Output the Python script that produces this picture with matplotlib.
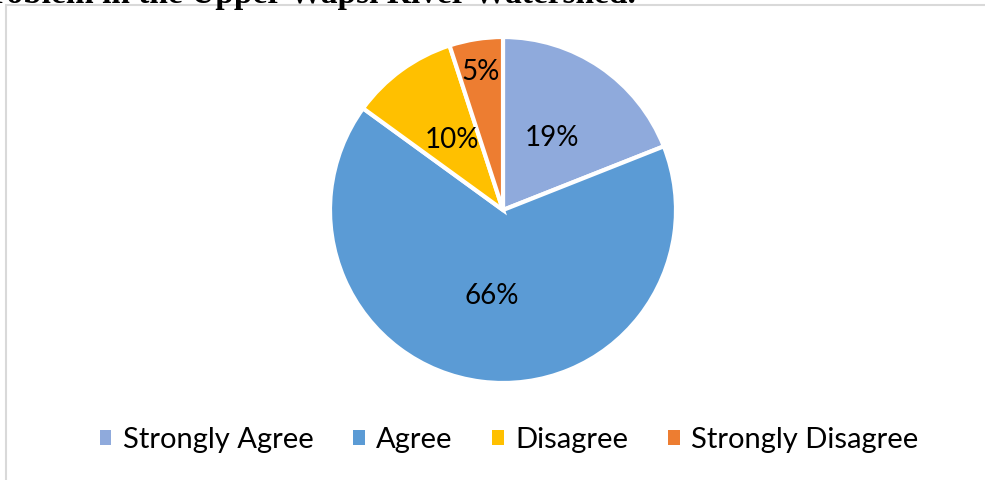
import matplotlib.pyplot as plt
from matplotlib.patches import Patch, Rectangle
import numpy as np

categories = ['Strongly Agree', 'Agree', 'Disagree', 'Strongly Disagree']
shares = [19, 66, 10, 5]
colors = ['#8FAADC', '#5B9BD5', '#FFC000', '#ED7D31']
title = 'Problem in the Upper Wapsi River Watershed.'

W, H = 985, 480
fig = plt.figure(figsize=(W / 100, H / 100), dpi=100)

# chart frame (top/left edges visible)
fig.patches.append(Rectangle((6 / W, -0.1), 1.2, 1 - 5 / H + 0.1, transform=fig.transFigure,
                             fill=False, edgecolor='#D9D9D9', linewidth=1.5))

# title, cut off at the top
fig.text(636 / W, 1 - 3 / H, title, ha='right', va='baseline', fontsize=24,
         fontweight='bold', family='Liberation Serif')

cx, cy, r = 503, 210, 173
ax = fig.add_axes([(cx - r) / W, (H - cy - r) / H, 2 * r / W, 2 * r / H])
wedges, texts, autotexts = ax.pie(shares, colors=colors, startangle=90, counterclock=False,
                                  autopct='%d%%', pctdistance=0.5,
                                  wedgeprops=dict(edgecolor='white', linewidth=3),
                                  textprops=dict(fontsize=20, family='Lato'))
# small slice label sits further out
w = wedges[3]
mid = np.deg2rad((w.theta1 + w.theta2) / 2)
autotexts[3].set_position((0.81 * np.cos(mid), 0.81 * np.sin(mid)))
ax.set_xlim(-1, 1)
ax.set_ylim(-1, 1)

handles = [Patch(facecolor=c, edgecolor='none') for c in colors]
fig.legend(handles, categories, loc='center', bbox_to_anchor=(509 / W, 1 - 440 / H), ncol=4,
           frameon=False, prop=dict(family='Lato', size=21), handlelength=0.4, handleheight=0.4,
           handletextpad=0.4, columnspacing=1.35)

fig.savefig('out.png', dpi=100)
